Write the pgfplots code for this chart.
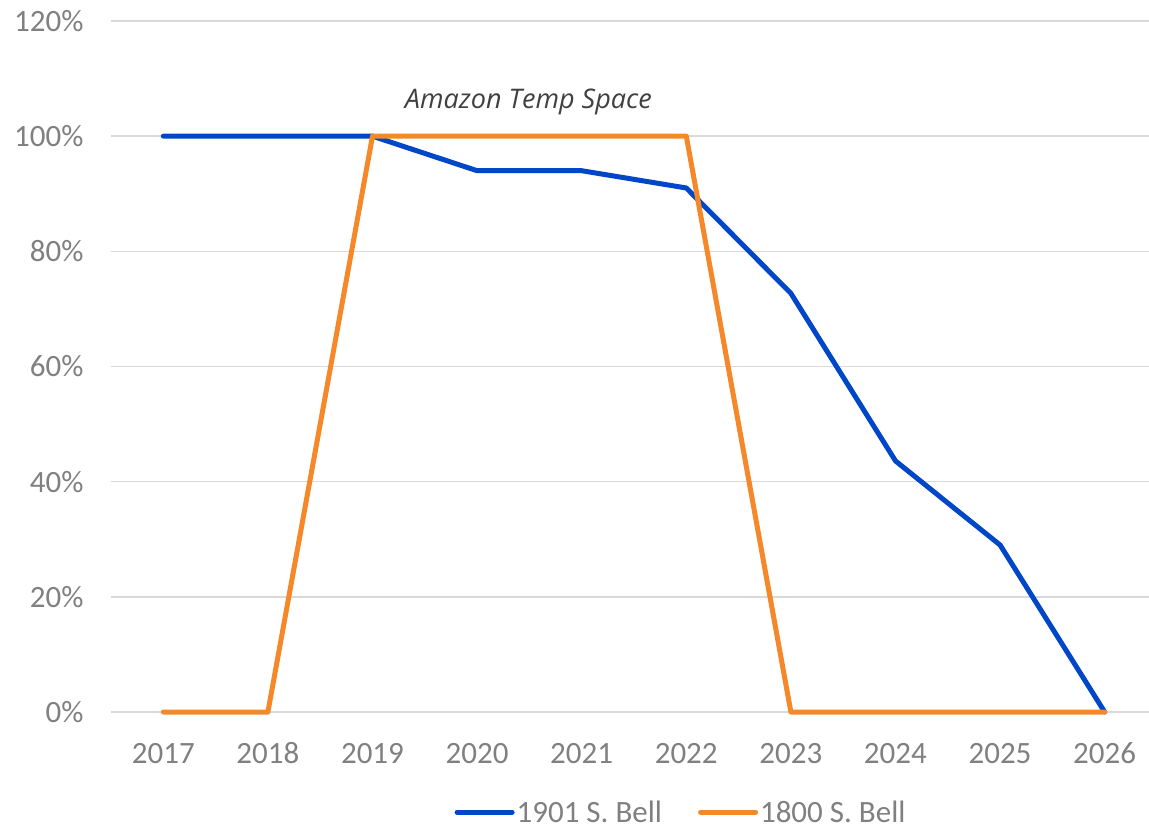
\documentclass[border=0pt]{standalone}
\usepackage{pgfplots}
\pgfplotsset{compat=1.18}
\usepackage{fontspec}
\setmainfont{Carlito}
\newfontfamily\annfont{Open Sans}
\definecolor{bblue}{RGB}{0,70,200}
\definecolor{oorange}{RGB}{245,137,42}
\definecolor{tgray}{RGB}{128,128,128}
\definecolor{ggray}{RGB}{217,217,217}
\begin{document}
\begin{tikzpicture}
\useasboundingbox (0,0) rectangle (1149pt,828pt);
\begin{axis}[
  at={(111pt,116pt)}, anchor=south west,
  scale only axis, width=1046pt, height=691pt,
  xmin=2016.5, xmax=2026.5, ymin=0, ymax=120,
  xtick={2017,...,2026},
  xticklabel style={/pgf/number format/1000 sep={}},
  ytick={0,20,...,120},
  yticklabel={\pgfmathprintnumber{\tick}\%},
  /pgf/number format/assume math mode=true,
  tick label style={font=\fontsize{31}{37}\selectfont, text=tgray},
  xticklabel style={anchor=base, yshift=-51pt},
  yticklabel style={xshift=-24pt},
  major tick length=0pt,
  axis line style={draw=none},
  ymajorgrids, grid style={ggray, line width=1.5pt},
  legend style={at={(0.545,-0.145)}, anchor=center, draw=none, legend columns=2,
    font=\fontsize{31}{37}\selectfont, text=tgray,
    nodes={inner xsep=2pt},
    /tikz/every even column/.append style={column sep=34pt}},
  legend image code/.code={\draw[#1, line cap=round] (0pt,0pt) -- (55pt,0pt);},
  clip=false,
]
\addplot[bblue, line width=5pt, line join=round, line cap=round] coordinates {
(2017,100) (2018,100) (2019,100) (2020,94) (2021,94) (2022,91) (2023,72.7) (2024,43.6) (2025,29.0) (2026,0)};
\addlegendentry{1901 S. Bell}
\addplot[oorange, line width=5pt, line join=round, line cap=round] coordinates {
(2017,0) (2018,0) (2019,100) (2020,100) (2021,100) (2022,100) (2023,0) (2024,0) (2025,0) (2026,0)};
\addlegendentry{1800 S. Bell}
\node[font=\annfont\itshape\fontsize{27}{32}\selectfont, text={rgb,255:red,64;green,64;blue,64}] at (axis cs:2020.49,106) {Amazon Temp Space};
\end{axis}
\end{tikzpicture}
\end{document}
